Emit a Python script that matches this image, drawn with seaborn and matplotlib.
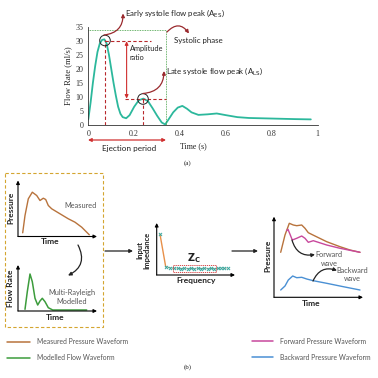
import numpy as np
import pandas as pd
import seaborn as sns
import matplotlib
matplotlib.use("Agg")
import matplotlib.pyplot as plt
from matplotlib.patches import Circle, Rectangle

# ---------------- data ----------------
# (a) flow waveform
t_flow = [0, 0.01, 0.02, 0.03, 0.04, 0.05, 0.06, 0.07, 0.08, 0.09, 0.10, 0.11, 0.12,
          0.13, 0.14, 0.15, 0.165, 0.18, 0.20, 0.22, 0.24, 0.26, 0.28, 0.30, 0.32,
          0.335, 0.35, 0.37, 0.39, 0.41, 0.43, 0.45, 0.48, 0.52, 0.56, 0.60, 0.65,
          0.70, 0.80, 0.90, 0.97]
q_flow = [2, 8, 15, 21, 26, 29, 30.3, 30.5, 29, 25, 20, 15, 10.5,
          6.5, 4, 2.8, 2.4, 3.5, 6.5, 8.8, 9.4, 8.5, 6, 3.3, 0.9,
          0.2, 2, 4.5, 6.2, 6.8, 5.8, 4.5, 3.6, 3.8, 4.1, 3.5, 2.8,
          2.5, 2.3, 2.1, 2.0]
es_t, es_v = 0.073, 30.3
ls_t, ls_v = 0.24, 9.4
eject_end = 0.337
x_ticks = [0, 0.2, 0.4, 0.6, 0.8, 1]
x_ticklabels = ["0", "0.2", "0.4", "0.6", "0.8", "1"]
y_ticks = [0, 5, 10, 15, 20, 25, 30, 35]

# (b) measured pressure (schematic)
mp_t = [4.7, 7, 10.3, 14.3, 18.7, 22, 25.3, 27.7, 30.3, 33.7, 42, 50.3, 57, 63.7, 71.3]
mp_p = [3.7, 21, 37.7, 44.3, 41, 36, 38.3, 37, 31, 27.7, 22.7, 17.7, 14.3, 9.3, 1.7]
# modelled flow (schematic)
mf_t = [7, 9.3, 12, 14.3, 17, 19.7, 22, 24.3, 27, 30.3, 34.7, 68.7]
mf_q = [1.7, 19.3, 37, 29.3, 12.7, 6, 10, 12.7, 9.3, 3.3, 1, 1]
# input impedance
imp_f = [3.3, 9, 13.3, 17.6, 21, 24.3, 27.6, 31, 34.3, 37.6, 41, 44.3, 47.6, 51,
         54.3, 57.6, 61, 64.3, 67.6, 71]
imp_z = [40.7, 8.3, 7, 6.7, 6.7, 6.5, 6.7, 6.5, 6.7, 6.5, 6.7, 6.5, 6.7, 6.5,
         6.7, 6.5, 6.7, 6.7, 6.9, 6.9]
# separated waves
br_t = [6.7, 11, 15.3, 19.3, 22.7, 27.7, 31, 34.3, 41, 52.7, 66, 76, 86]
br_p = [45, 62.3, 74, 72.3, 71.6, 72.3, 69, 64.6, 61.3, 55.6, 50.6, 47.3, 45]
fw_t = [12.7, 14, 18.3, 22.7, 27.7, 31, 34.3, 39.3, 52.7, 66, 86]
fw_p = [66.6, 68, 57.3, 59, 61.3, 59, 55, 56.6, 52.3, 49, 45]
bw_t = [6.7, 11, 14.3, 18.7, 22.7, 27.7, 32.7, 39.3, 52.7, 69.3, 86]
bw_p = [7.3, 11.3, 17.3, 21.3, 19.6, 20, 18.3, 16.6, 14, 10.6, 7.3]

# ---------------- style ----------------
sns.set_style("white")
plt.rcParams['font.family'] = ['Lato', 'DejaVu Sans']
TEAL = "#2cb89c"
RED = "#b8282c"
DRED = "#9a2a2e"
BROWN = "#b8733c"
GREEN = "#3c9c3c"
PINK = "#c8489c"
BLUE = "#4a90d4"
GRAY = "#555555"
SERIF = ['Liberation Serif', 'DejaVu Serif']

W = 378.0
fig = plt.figure(figsize=(3.78, 3.78), dpi=100)
fig.patch.set_facecolor("white")


def px_axes(x0, ytop, x1, ybot):
    return fig.add_axes([x0 / W, 1 - ybot / W, (x1 - x0) / W, (ybot - ytop) / W])


# ---------------- (a) main chart ----------------
ax = px_axes(88.3, 26.7, 317.7, 125)
ax.set_facecolor("none")
sns.lineplot(x=t_flow, y=q_flow, ax=ax, color=TEAL, lw=1.3, sort=False)
ax.set_xlim(0, 1)
ax.set_ylim(0, 35)
ax.set_xticks(x_ticks)
ax.set_xticklabels(x_ticklabels)
ax.set_yticks(y_ticks)
for s in ["top", "right"]:
    ax.spines[s].set_visible(False)
for s in ["left", "bottom"]:
    ax.spines[s].set_linewidth(0.6)
    ax.spines[s].set_color("#333333")
ax.tick_params(axis="both", direction="out", length=2, width=0.5, pad=1.5,
               labelsize=5.8, colors="#333333")
for lab in ax.get_xticklabels() + ax.get_yticklabels():
    lab.set_family(SERIF)
ax.set_ylabel("Flow Rate (ml/s)", family=SERIF, fontsize=6.2, labelpad=2)

# systolic phase box (green dotted)
ax.plot([0, eject_end, eject_end], [34, 34, 0], color=GREEN, lw=0.6, ls=(0, (1, 1)))
# red dashed guides
dash = (0, (3, 2))
ax.plot([es_t, es_t], [0, es_v], color=RED, lw=0.8, ls=dash)
ax.plot([es_t, 0.275], [es_v - 0.3, es_v - 0.3], color=RED, lw=0.8, ls=dash)
ax.plot([0.16, eject_end], [ls_v, ls_v], color=RED, lw=0.8, ls=dash)
ax.plot([ls_t, ls_t], [0, ls_v], color=RED, lw=0.8, ls=dash)
# amplitude ratio arrow
ax.annotate("", xy=(0.167, ls_v), xytext=(0.167, es_v - 0.5),
            arrowprops=dict(arrowstyle="<|-|>", color="#d03030", lw=0.8,
                            mutation_scale=5, shrinkA=0, shrinkB=0))

# ---------------- overlay ----------------
ov = fig.add_axes([0, 0, 1, 1])
ov.set_xlim(0, W)
ov.set_ylim(W, 0)
ov.axis("off")
ov.set_zorder(5)

ov.add_patch(Circle((105, 40.5), 5.3, fill=False, ec="#222222", lw=0.7))
ov.add_patch(Circle((143, 99), 5.3, fill=False, ec="#222222", lw=0.7))

TXT = 5.7
ov.text(125, 13, "Early systole flow peak (A$_{\\mathrm{ES}}$)", fontsize=TXT,
        va="center", ha="left", color="#222222")
ov.annotate("", xy=(123, 13.5), xytext=(104, 35),
            arrowprops=dict(arrowstyle="-|>", color=DRED, lw=0.9, mutation_scale=5,
                            shrinkA=0, shrinkB=0, connectionstyle="arc3,rad=0.45"))
ov.text(174, 40, "Systolic phase", fontsize=TXT, va="center", ha="left", color="#222222")
ov.annotate("", xy=(189, 33.5), xytext=(167, 32),
            arrowprops=dict(arrowstyle="-|>", color=DRED, lw=0.9, mutation_scale=5,
                            shrinkA=0, shrinkB=0, connectionstyle="arc3,rad=-0.6"))
ov.text(166, 71, "Late systole flow peak (A$_{\\mathrm{LS}}$)", fontsize=TXT,
        va="center", ha="left", color="#222222")
ov.annotate("", xy=(164, 71), xytext=(143, 93.5),
            arrowprops=dict(arrowstyle="-|>", color=DRED, lw=0.9, mutation_scale=5,
                            shrinkA=0, shrinkB=0, connectionstyle="arc3,rad=0.45"))
ov.text(129.5, 48.5, "Amplitude", fontsize=5.3, va="center", ha="left", color="#222222")
ov.text(129.5, 57.5, "ratio", fontsize=5.3, va="center", ha="left", color="#222222")

# ejection period
ov.annotate("", xy=(88, 140), xytext=(166, 140),
            arrowprops=dict(arrowstyle="<|-|>", color="#d03030", lw=0.9,
                            mutation_scale=5, shrinkA=0, shrinkB=0))
ov.text(129, 149, "Ejection period", fontsize=5.9, ha="center", va="center", color="#222222")
ov.text(180, 146, "Time (s)", fontsize=5.8, family=SERIF, ha="left", va="center", color="#222222")
ov.text(188, 163, "(a)", fontsize=5, family=SERIF, ha="center", va="center", color="#222222")

# ---------------- (b) ----------------
ov.add_patch(Rectangle((5, 172.5), 98, 154.5, fill=False, ec="#d4a530", lw=0.8,
                       ls=(0, (3, 2))))


def mini(x0, ytop, x1, ybot, xmax, ymax):
    m = px_axes(x0, ytop, x1, ybot)
    m.set_xlim(0, xmax)
    m.set_ylim(0, ymax)
    m.axis("off")
    kw = dict(arrowstyle="-|>", color="black", lw=0.8, mutation_scale=5,
              shrinkA=0, shrinkB=0)
    m.annotate("", xy=(0, 1), xytext=(0, 0), xycoords="axes fraction", arrowprops=kw)
    m.annotate("", xy=(1, 0), xytext=(0, 0), xycoords="axes fraction", arrowprops=kw)
    return m


m1 = mini(18, 180.5, 97, 236.5, 79, 56)
sns.lineplot(x=mp_t, y=mp_p, ax=m1, color=BROWN, lw=1.0, sort=False)
m2 = mini(18, 265, 97, 311, 79, 46)
sns.lineplot(x=mf_t, y=mf_q, ax=m2, color=GREEN, lw=1.1, sort=False)
m3 = mini(156.7, 223, 235, 275, 78.3, 52)
sns.lineplot(x=imp_f[:2], y=imp_z[:2], ax=m3, color="#e8904a", lw=1.0, sort=False)
sns.lineplot(x=imp_f[1:], y=imp_z[1:], ax=m3, color="#8a8a6a", lw=0.8,
             ls=(0, (1, 1)), sort=False)
sns.scatterplot(x=imp_f, y=imp_z, ax=m3, color="#3aa8a0", marker="x", s=5,
                linewidth=0.7, zorder=3)
m4 = mini(274, 216.7, 363, 297.3, 89, 80.6)
sns.lineplot(x=br_t, y=br_p, ax=m4, color=BROWN, lw=1.0, sort=False)
sns.lineplot(x=fw_t, y=fw_p, ax=m4, color=PINK, lw=1.0, sort=False)
sns.lineplot(x=bw_t, y=bw_p, ax=m4, color=BLUE, lw=1.0, sort=False)

bold = dict(fontweight="bold", fontsize=6.0, color="#222222")
ov.text(11, 208, "Pressure", rotation=90, ha="center", va="center", **bold)
ov.text(50, 242, "Time", ha="center", va="center", **bold)
ov.text(11, 288, "Flow Rate", rotation=90, ha="center", va="center", **bold)
ov.text(55, 318, "Time", ha="center", va="center", **bold)
ov.text(143, 250, "Input\nImpedance", rotation=90, ha="center", va="center",
        linespacing=1.0, fontweight="bold", fontsize=5.5, color="#222222")
ov.text(196, 281, "Frequency", ha="center", va="center", **bold)
ov.text(194, 258, r"$\mathbf{Z_C}$", ha="center", va="center", fontsize=7, color="#222222")
ov.add_patch(Rectangle((172.7, 265), 43.3, 7.3, fill=False, ec="#d03030", lw=0.6,
                       ls=(0, (1.5, 1))))
ov.text(268, 256, "Pressure", rotation=90, ha="center", va="center", **bold)
ov.text(311, 303, "Time", ha="center", va="center", **bold)

ov.text(81, 206, "Measured", ha="center", va="center", fontsize=5.3, color=GRAY)
ov.text(72, 297, "Multi-Rayleigh\nModelled", ha="center", va="center", fontsize=5.3,
        color=GRAY, linespacing=1.3)
ov.text(329, 259, "Forward\nwave", ha="center", va="center", fontsize=5.3,
        color=GRAY, linespacing=1.3)
ov.text(352, 274.5, "Backward\nwave", ha="center", va="center", fontsize=5.3,
        color=GRAY, linespacing=1.3)

akw = dict(arrowstyle="-|>", color="#222222", lw=0.9, mutation_scale=5,
           shrinkA=0, shrinkB=0)
ov.annotate("", xy=(315, 254.5), xytext=(292, 240),
            arrowprops=dict(akw, connectionstyle="arc3,rad=0.45"))
ov.annotate("", xy=(337, 270.5), xytext=(313, 281),
            arrowprops=dict(akw, connectionstyle="arc3,rad=-0.45"))
ov.annotate("", xy=(68, 275.5), xytext=(78, 245),
            arrowprops=dict(akw, connectionstyle="arc3,rad=-0.5"))
ov.annotate("", xy=(133, 251), xytext=(105, 251), arrowprops=akw)
ov.annotate("", xy=(258, 251), xytext=(232, 251), arrowprops=akw)

# legend
leg = [(7, 30, 342, BROWN, 37, "Measured Pressure Waveform"),
       (7, 30, 357.5, GREEN, 37, "Modelled Flow Waveform"),
       (252, 273, 341, PINK, 280, "Forward Pressure Waveform"),
       (252, 273, 357, BLUE, 280, "Backward Pressure Waveform")]
for xa, xb, yy, c, xt, lab in leg:
    ov.plot([xa, xb], [yy, yy], color=c, lw=1.1)
    ov.text(xt, yy, lab, ha="left", va="center", fontsize=4.85, color=GRAY)
ov.text(188, 367, "(b)", fontsize=5, family=SERIF, ha="center", va="center", color="#222222")

fig.savefig("out.png", dpi=100, facecolor="white")
